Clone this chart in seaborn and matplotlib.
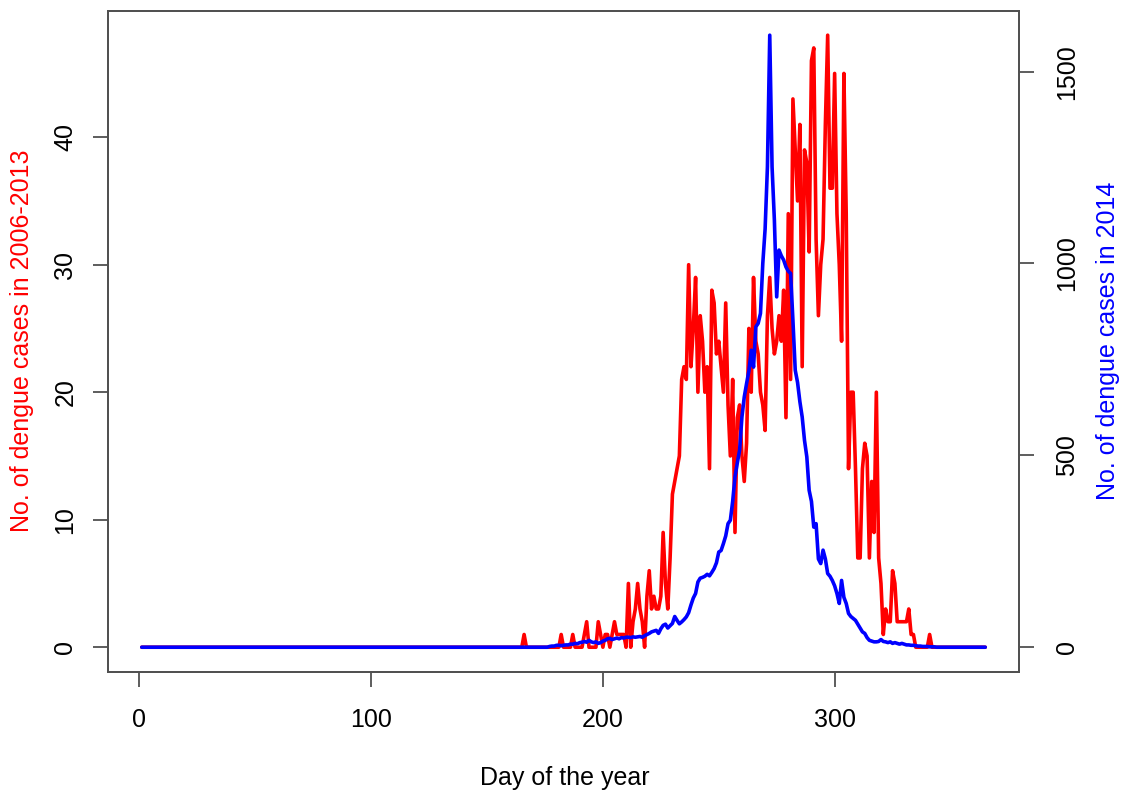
import numpy as np
import pandas as pd
import matplotlib
matplotlib.use("Agg")
import matplotlib.pyplot as plt
import seaborn as sns

# ---------------- data ----------------
n_days = 365
red_start = 160   # first day listed for the 2006-2013 series (zeros before)
red_vals = [
    0, 0, 0, 0, 0, 0, 1, 0, 0, 0,          # 160-169
    0, 0, 0, 0, 0, 0, 0, 0, 0, 0,          # 170-179
    0, 0, 1, 0, 0, 0, 0, 1, 0, 0,          # 180-189
    0, 0, 1, 2, 0, 0, 0, 0, 2, 1,          # 190-199
    0, 1, 1, 0, 1, 2, 1, 1, 1, 1,          # 200-209
    0, 5, 0, 2, 3, 5, 3, 2, 0, 4,          # 210-219
    6, 3, 4, 3, 3, 4, 9, 5, 3, 7,          # 220-229
    12, 13, 14, 15, 21, 22, 21, 30, 22, 25,  # 230-239
    29, 20, 26, 24, 20, 22, 14, 28, 27, 23,  # 240-249
    24, 22, 20, 27, 19, 15, 21, 9, 18, 19,   # 250-259
    15, 13, 16, 25, 20, 29, 24, 23, 20, 19,  # 260-269
    17, 26, 29, 25, 23, 24, 26, 24, 28, 18,  # 270-279
    34, 21, 43, 39, 35, 41, 22, 39, 38, 31,  # 280-289
    46, 47, 32, 26, 30, 32, 41, 48, 36, 36,  # 290-299
    45, 34, 30, 24, 45, 34, 14, 20, 20, 14,  # 300-309
    7, 7, 14, 16, 15, 7, 13, 9, 20, 7,       # 310-319
    5, 1, 3, 2, 2, 6, 5, 2, 2, 2,            # 320-329
    2, 2, 3, 1, 1, 0, 0, 0, 0, 0,            # 330-339
    0, 1, 0, 0, 0, 0,                        # 340-345
]

blue_start = 170  # first day listed for the 2014 series (zeros before)
blue_vals = [
    0, 0, 0, 0, 0, 0, 0, 2, 3, 3,                      # 170-179
    5, 5, 4, 5, 6, 6, 8, 8, 10, 9,                     # 180-189
    12, 13, 15, 13, 18, 14, 12, 14, 10, 12,            # 190-199
    16, 18, 22, 23, 20, 22, 24, 22, 25, 24,            # 200-209
    26, 26, 25, 27, 26, 27, 28, 26, 30, 33,            # 210-219
    36, 40, 42, 44, 36, 48, 57, 60, 50, 56,            # 220-229
    62, 80, 70, 61, 66, 72, 79, 90, 110, 128,          # 230-239
    140, 170, 180, 182, 185, 190, 186, 195, 205, 220,  # 240-249
    248, 252, 270, 290, 322, 331, 380, 444, 480, 514,  # 250-259
    600, 652, 687, 720, 774, 730, 835, 844, 870, 1000,  # 260-269
    1090, 1252, 1595, 1252, 1113, 913, 1035, 1020, 1009, 991,  # 270-279
    980, 974, 852, 722, 690, 640, 600, 539, 496, 409,  # 280-289
    380, 313, 322, 230, 218, 253, 230, 192, 185, 174,  # 290-299
    160, 140, 114, 174, 130, 114, 88, 80, 75, 70,      # 300-309
    60, 50, 40, 36, 25, 18, 16, 14, 14, 15,            # 310-319
    20, 15, 14, 12, 14, 10, 12, 10, 8, 10,             # 320-329
    8, 6, 6, 5, 5, 4, 3, 3, 2, 2,                      # 330-339
    2, 1, 1, 1, 0, 0,                                  # 340-345
]

x_ticks = [0, 100, 200, 300]
left_ticks = [0, 10, 20, 30, 40]
right_ticks = [0, 500, 1000, 1500]

x_label = "Day of the year"
left_label = "No. of dengue cases in 2006-2013"
right_label = "No. of dengue cases in 2014"

# build full-year series (days outside the listed range are zero)
days = np.arange(1, n_days + 1)
red = np.zeros(n_days)
red[red_start - 1: red_start - 1 + len(red_vals)] = red_vals
blue = np.zeros(n_days)
blue[blue_start - 1: blue_start - 1 + len(blue_vals)] = blue_vals
df = pd.DataFrame({"day": days, "red": red, "blue": blue})

# ---------------- style ----------------
sns.set_theme(style="white")
plt.rcParams["font.family"] = ["Liberation Sans", "DejaVu Sans"]
FS = 18
spine_col = "#505050"
LW = 2.6

fig = plt.figure(figsize=(11.33, 7.95), dpi=100)
ax = fig.add_axes([108 / 1133, 1 - 671.7 / 795, (1019 - 108) / 1133, (671.7 - 10.7) / 795])

sns.lineplot(data=df, x="day", y="red", ax=ax, color="#FF0000", linewidth=LW,
             estimator=None, sort=False)
ax2 = ax.twinx()
sns.lineplot(data=df, x="day", y="blue", ax=ax2, color="#0000FF", linewidth=LW,
             estimator=None, sort=False)

# R-style 4% axis extension
xr = days.max() - days.min()
ax.set_xlim(days.min() - 0.04 * xr, days.max() + 0.04 * xr)
ax.set_ylim(-0.04 * red.max(), red.max() * 1.04)
ax2.set_ylim(-0.04 * blue.max(), blue.max() * 1.04)

ax.set_xticks(x_ticks)
ax.set_xticklabels([str(v) for v in x_ticks], fontsize=FS)
ax.set_yticks(left_ticks)
ax.set_yticklabels([str(v) for v in left_ticks], fontsize=FS, rotation=90, va="center")
ax2.set_yticks(right_ticks)
ax2.set_yticklabels([str(v) for v in right_ticks], fontsize=FS, rotation=90, va="center")

for a in (ax, ax2):
    for s in a.spines.values():
        s.set_visible(True)
        s.set_color(spine_col)
        s.set_linewidth(1.3)
    a.grid(False)

ax.tick_params(axis="x", direction="out", length=11, width=1.3, color=spine_col,
               pad=15, labelcolor="black", bottom=True)
ax.tick_params(axis="y", direction="out", length=11, width=1.3, color=spine_col,
               pad=11, labelcolor="black", left=True)
ax2.tick_params(axis="y", direction="out", length=11, width=1.3, color=spine_col,
                pad=15, labelcolor="black", right=True)

ax.set_xlabel(x_label, fontsize=FS, color="black")
ax.xaxis.set_label_coords(0.5016, -0.1608)
ax.xaxis.label.set_va("center")

ax.set_ylabel(left_label, fontsize=FS, color="#FF0000")
ax.yaxis.set_label_coords(-0.0944, 0.5)
ax.yaxis.label.set_va("center")

ax2.set_ylabel(right_label, fontsize=FS, color="#0000FF", rotation=90)
ax2.yaxis.set_label_coords(1.0977, 0.5)
ax2.yaxis.label.set_va("center")

fig.savefig("out.png", dpi=100)
